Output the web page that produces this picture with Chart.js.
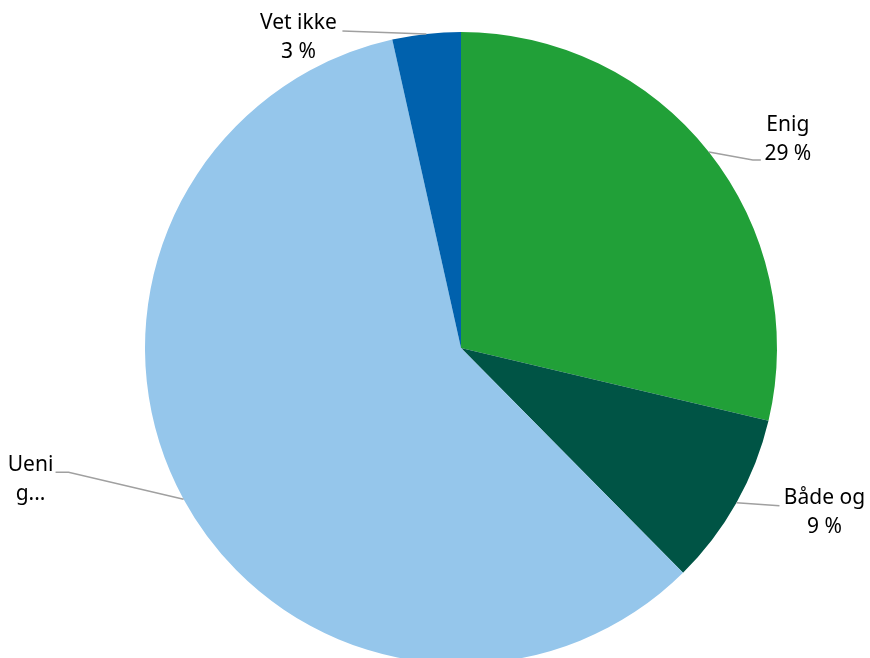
<!DOCTYPE html>
<html>
<head>
<meta charset="utf-8">
<script src="https://cdn.jsdelivr.net/npm/chart.js@4"></script>
<style>
  html, body { margin: 0; padding: 0; background: #fff; overflow: hidden; }
  #wrap { width: 870px; height: 700px; }
</style>
</head>
<body>
<div id="wrap"><canvas id="myChart"></canvas></div>
<script>
var categories = ['Enig', 'Både og', 'Uenig', 'Vet ikke'];
var values = [28.7, 8.9, 58.91, 3.49];
var labelLines = [['Enig'], ['Både og'], ['Ueni', 'g...'], ['Vet ikke']];
var colors = ['#21a038', '#005445', '#95c6eb', '#0061ad'];

// label placement relative to the slice's outer midpoint: [elbow dx, elbow dy, label dx, label dy]
var leader = [
    [44, 8, 79, -12],
    [43, 3, 88, 10],
    [-115, -27, -153, -20],
    [-84, -3, -128, 4]
];

var total = values.reduce(function (a, b) { return a + b; }, 0);

var labelPlugin = {
    id: 'outLabels',
    afterDraw: function (chart) {
        var ctx = chart.ctx;
        var meta = chart.getDatasetMeta(0);
        ctx.save();
        meta.data.forEach(function (arc, i) {
            var mid = (arc.startAngle + arc.endAngle) / 2;
            var ax = arc.x + Math.cos(mid) * arc.outerRadius;
            var ay = arc.y + Math.sin(mid) * arc.outerRadius;
            var l = leader[i];
            ctx.strokeStyle = '#a0a0a0';
            ctx.lineWidth = 1.5;
            ctx.beginPath();
            ctx.moveTo(ax, ay);
            ctx.lineTo(ax + l[0], ay + l[1]);
            if (i === 2) ctx.lineTo(ax + l[0] - 13, ay + l[1]);
            else if (i === 0) ctx.lineTo(ax + l[0] + 8, ay + l[1]);
            ctx.stroke();

            var lines = labelLines[i].slice();
            if (i !== 2) lines.push(Math.round(values[i] / total * 100) + ' %');
            ctx.fillStyle = '#000';
            ctx.font = '21px "Noto Sans"';
            ctx.textAlign = 'center';
            ctx.textBaseline = 'middle';
            var cx = ax + l[2], cy = ay + l[3];
            var lh = 29;
            lines.forEach(function (t, k) {
                ctx.fillText(t, cx, cy + (k - (lines.length - 1) / 2) * lh);
            });
        });
        ctx.restore();
    }
};

var config = {
    type: 'pie',
    data: {
        labels: categories,
        datasets: [{
            data: values,
            backgroundColor: colors,
            borderWidth: 0
        }]
    },
    options: {
        responsive: true,
        maintainAspectRatio: false,
        animation: false,
        layout: { padding: { top: 32, bottom: 36, left: 145, right: 93 } },
        plugins: {
            legend: { display: false },
            tooltip: { enabled: false }
        }
    },
    plugins: [labelPlugin]
};

var ctx = document.getElementById('myChart').getContext('2d');
var myChart = new Chart(ctx, config);
</script>
</body>
</html>
